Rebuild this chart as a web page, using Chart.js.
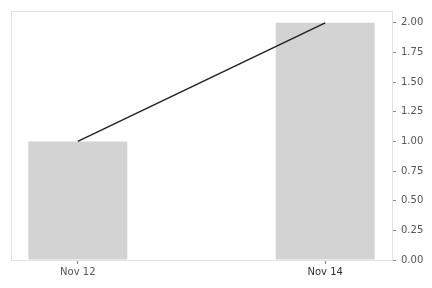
<!DOCTYPE html>
<html>
<head>
<meta charset="utf-8">
<script src="https://cdn.jsdelivr.net/npm/chart.js@4"></script>
<style>
  html, body { margin: 0; padding: 0; background: #fff; }
  #wrap { width: 432px; height: 288px; }
</style>
</head>
<body>
<div id="wrap"><canvas id="chart" width="432" height="288"></canvas></div>
<script>
// dates shown on the x axis, as day offsets from Nov 12
const dayLabels = ['Nov 12', 'Nov 14'];
const dayOffsets = [0, 2];
const barValues = [1, 2];
const lineValues = [1, 2];
const yTicks = [0, 0.25, 0.5, 0.75, 1.0, 1.25, 1.5, 1.75, 2.0];

// light frame round the plot area
const framePlugin = {
    id: 'frame',
    afterDraw(chart) {
        const a = chart.chartArea;
        const ctx = chart.ctx;
        ctx.save();
        ctx.strokeStyle = '#e3e3e3';
        ctx.lineWidth = 1;
        ctx.strokeRect(Math.round(a.left) + 0.5, Math.round(a.top) + 0.5,
            Math.round(a.right - a.left), Math.round(a.bottom - a.top));
        ctx.restore();
    }
};

const ctx = document.getElementById('chart').getContext('2d');
const chart = new Chart(ctx, {
    type: 'bar',
    data: {
        datasets: [
            {
                type: 'line',
                data: dayOffsets.map((d, i) => ({ x: d, y: lineValues[i] })),
                borderColor: '#222222',
                borderWidth: 1.5,
                pointRadius: 0,
                fill: false,
                order: 0
            },
            {
                type: 'bar',
                data: dayOffsets.map((d, i) => ({ x: d, y: barValues[i] })),
                backgroundColor: '#d3d3d3',
                borderWidth: 0,
                barPercentage: 0.4,
                categoryPercentage: 1,
                order: 1
            }
        ]
    },
    options: {
        responsive: false,
        animation: false,
        layout: { padding: { left: 11, top: 11, right: 0, bottom: 0 } },
        plugins: { legend: { display: false }, tooltip: { enabled: false } },
        scales: {
            x: {
                type: 'linear',
                min: -0.54,
                max: 2.54,
                offset: false,
                afterBuildTicks: scale => {
                    scale.ticks = dayOffsets.map(v => ({ value: v }));
                },
                afterFit: scale => { scale.height = 28; },
                ticks: {
                    autoSkip: false,
                    maxRotation: 0,
                    padding: 2,
                    font: { family: 'DejaVu Sans', size: 10 },
                    color: c => c.index === 1 ? '#333333' : '#555555',
                    callback: (v, i) => dayLabels[i]
                },
                grid: { offset: false, drawOnChartArea: false, tickLength: 4, color: '#888888' },
                border: { display: false }
            },
            y: {
                position: 'right',
                min: 0,
                max: 2.1,
                afterBuildTicks: scale => {
                    scale.ticks = yTicks.map(v => ({ value: v }));
                },
                afterFit: scale => { scale.width = 40; },
                ticks: {
                    padding: 5,
                    font: { family: 'DejaVu Sans', size: 10 },
                    color: '#555555',
                    callback: v => v.toFixed(2)
                },
                grid: { drawOnChartArea: false, tickLength: 4, color: '#888888' },
                border: { display: false }
            }
        }
    },
    plugins: [framePlugin]
});
</script>
</body>
</html>
